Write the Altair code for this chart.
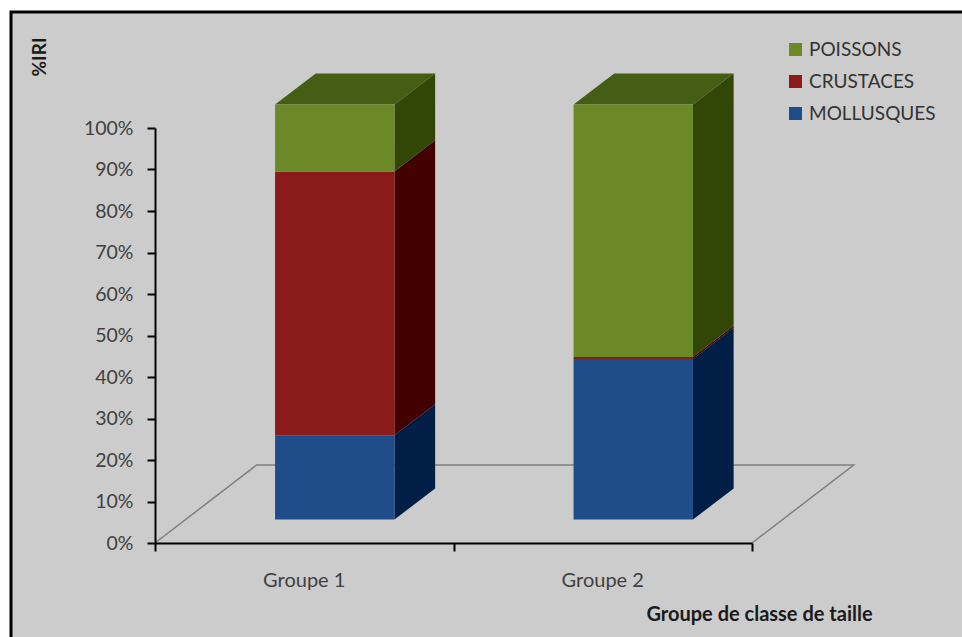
import altair as alt
import pandas as pd

# Stacked %IRI per size-class group (bottom -> top: MOLLUSQUES, CRUSTACES, POISSONS)
groups = ["Groupe 1", "Groupe 2"]
series = ["MOLLUSQUES", "CRUSTACES", "POISSONS"]
mollusques = [20.3, 38.7]
crustaces = [63.6, 0.5]
poissons = [16.1, 60.8]

legend_order = ["POISSONS", "CRUSTACES", "MOLLUSQUES"]
front_colors = {"POISSONS": "#6b8a27", "CRUSTACES": "#8b1b1a", "MOLLUSQUES": "#1f4d8a"}
side_colors = {"POISSONS": "#324605", "CRUSTACES": "#420000", "MOLLUSQUES": "#011e46"}
top_colors = {"POISSONS": "#445e14", "CRUSTACES": "#5e1010", "MOLLUSQUES": "#123560"}

# oblique projection of the floor depth into data units (x in group units, y in %)
DEPTH_X = 0.3407
DEPTH_Y = 18.8
BAR_HALF = 0.2
D_FRONT, D_BACK = 0.3, 0.7

FONT = "Lato"

values = {"MOLLUSQUES": mollusques, "CRUSTACES": crustaces, "POISSONS": poissons}

front_rows, side_rows, top_rows, label_rows = [], [], [], []
for i, g in enumerate(groups):
    base = 0.0
    xl, xr = i + 0.5 - BAR_HALF, i + 0.5 + BAR_HALF
    for s in series:
        lo, hi = base, base + values[s][i]
        base = hi
        front_rows.append({
            "series": s,
            "x": xl + D_FRONT * DEPTH_X, "x2": xr + D_FRONT * DEPTH_X,
            "y": lo + D_FRONT * DEPTH_Y, "y2": hi + D_FRONT * DEPTH_Y,
        })
        for d in (D_FRONT, D_BACK):
            side_rows.append({
                "face": f"{g}-{s}", "fill": side_colors[s],
                "x": xr + d * DEPTH_X,
                "y": lo + d * DEPTH_Y, "y2": hi + d * DEPTH_Y,
            })
    top_s = series[-1]
    for d in (D_FRONT, D_BACK):
        top_rows.append({
            "face": g, "fill": top_colors[top_s],
            "y": base + d * DEPTH_Y,
            "x": xl + d * DEPTH_X, "x2": xr + d * DEPTH_X,
        })
    label_rows.append({"label": g, "x": i + 0.5})

n = len(groups)
floor = pd.DataFrame({
    "o": [0, 1, 2, 3],
    "x": [0, DEPTH_X, n + DEPTH_X, n],
    "y": [0, DEPTH_Y, DEPTH_Y, 0],
})

X_SCALE = alt.Scale(domain=[0, n], nice=False, zero=False)
Y_SCALE = alt.Scale(domain=[0, 100], nice=False)
X_AX = alt.Axis(
    values=list(range(n + 1)), labels=False, grid=False, zindex=1,
    title="Groupe de classe de taille", titleX=604, titleY=71,
    titleAlign="center", titleBaseline="middle",
    titleFont=FONT, titleFontSize=20, titleFontWeight="bold", titleColor="#1a1a1a",
    domainColor="black", domainWidth=2, tickColor="black", tickWidth=2, tickSize=8,
)
Y_AX = alt.Axis(
    values=list(range(0, 101, 10)), labelExpr="datum.value + '%'", grid=False, zindex=1,
    title="%IRI", titleAngle=270, titleX=-115.5, titleY=-71.5,
    titleAlign="center", titleBaseline="middle",
    titleFont=FONT, titleFontSize=19, titleFontWeight="bold", titleColor="#1a1a1a",
    labelFont=FONT, labelFontSize=19.5, labelColor="#404040", labelPadding=14,
    domainColor="black", domainWidth=2, tickColor="black", tickWidth=2, tickSize=8,
)


def xq(field="x"):
    return alt.X(f"{field}:Q", scale=X_SCALE, axis=X_AX)


def yq(field="y"):
    return alt.Y(f"{field}:Q", scale=Y_SCALE, axis=Y_AX)


frame = alt.Chart(pd.DataFrame({"k": [0]})).mark_rect(
    fill="#cccccc", stroke="black", strokeWidth=3
).encode(
    x=alt.value(-144), x2=alt.value(820), y=alt.value(-116), y2=alt.value(520)
)

floor_line = alt.Chart(floor).mark_line(color="#7f7f7f", strokeWidth=1.5).encode(
    x=xq(), y=yq(), order="o:Q"
)

sides = alt.Chart(pd.DataFrame(side_rows)).mark_area(orient="vertical", interpolate="linear").encode(
    x=xq(), y=yq(), y2="y2:Q", detail="face:N", fill=alt.Fill("fill:N", scale=None)
)

tops = alt.Chart(pd.DataFrame(top_rows)).mark_area(orient="horizontal", interpolate="linear").encode(
    y=yq(), x=xq(), x2="x2:Q", detail="face:N", fill=alt.Fill("fill:N", scale=None)
)

fronts = alt.Chart(pd.DataFrame(front_rows)).mark_rect().encode(
    x=xq(), x2="x2:Q", y=yq(), y2="y2:Q",
    color=alt.Color(
        "series:N",
        scale=alt.Scale(domain=legend_order, range=[front_colors[s] for s in legend_order]),
        sort=legend_order,
        legend=alt.Legend(
            title=None, orient="none", legendX=631, legendY=-88, padding=0,
            symbolType="square", symbolSize=170, symbolStrokeWidth=0,
            labelFont=FONT, labelFontSize=19, labelColor="#333333",
            labelOffset=4, rowPadding=12,
        ),
    ),
)

labels = alt.Chart(pd.DataFrame(label_rows)).mark_text(
    font=FONT, fontSize=20, color="#404040", baseline="middle", align="center"
).encode(x=xq(), y=alt.value(453), text="label:N")

chart = alt.layer(frame, floor_line, sides, tops, fronts, labels).properties(
    width=597, height=415,
    padding={"left": 155, "top": 128, "right": 210, "bottom": 94},
    autosize=alt.AutoSizeParams(type="none"),
    background="white",
).configure_view(stroke=None)

chart.save("out.html", embed_options={"renderer": "svg", "actions": False})
